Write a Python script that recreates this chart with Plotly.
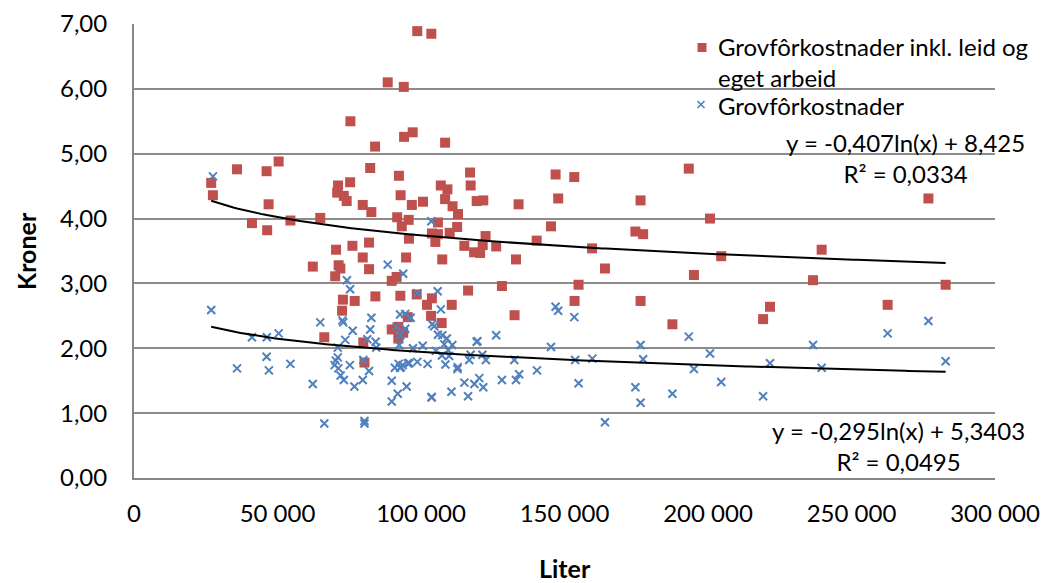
import numpy as np
import plotly.graph_objects as go

# Liter per farm (thousands) and cost per liter (kroner)
inkl_liter_k = [
    98.7, 103.6, 88.4, 94.0, 75.4, 94.1, 97.1, 108.4, 84.0, 50.4,
    35.9, 46.2, 82.3, 92.3, 117.1, 26.9, 27.5, 71.1, 75.3, 70.8,
    73.1, 74.1, 92.9, 106.9, 109.2, 108.4, 117.3, 119.4, 46.9, 79.7,
    82.7, 96.8, 100.7, 111.0, 112.9, 41.1, 46.4, 54.5, 64.9, 91.7,
    95.7, 93.3, 105.9, 103.8, 105.9, 110.0, 112.6, 95.8, 105.0, 115.1,
    70.4, 76.1, 81.9, 79.7, 94.8, 107.4, 118.5, 62.3, 71.3, 71.9,
    81.9, 70.1, 89.8, 91.5, 116.4, 72.8, 76.9, 84.1, 92.8, 98.5,
    103.8, 102.1, 110.7, 72.5, 103.5, 95.4, 107.2, 89.8, 92.1, 93.8,
    92.1, 66.3, 79.9, 80.3, 146.9, 153.4, 121.7, 134.0, 147.8, 176.5,
    122.5, 121.5, 126.2, 145.3, 140.3, 174.7, 177.4, 159.6, 120.6, 133.1,
    164.1, 128.2, 154.9, 153.5, 176.5, 132.6, 187.6, 193.3, 276.8, 200.7,
    239.6, 204.6, 195.1, 236.6, 282.8, 221.6, 219.2, 262.6,
]
inkl_kroner = [
    6.89, 6.85, 6.10, 6.03, 5.50, 5.26, 5.33, 5.17, 5.11, 4.88,
    4.76, 4.73, 4.78, 4.66, 4.71, 4.55, 4.36, 4.51, 4.56, 4.40,
    4.35, 4.27, 4.36, 4.51, 4.45, 4.30, 4.51, 4.27, 4.22, 4.21,
    4.10, 4.21, 4.26, 4.19, 4.07, 3.93, 3.82, 3.97, 4.01, 4.02,
    3.98, 3.88, 3.94, 3.77, 3.76, 3.78, 3.87, 3.69, 3.64, 3.58,
    3.52, 3.58, 3.63, 3.40, 3.40, 3.37, 3.48, 3.26, 3.28, 3.23,
    3.22, 3.11, 3.04, 3.10, 2.89, 2.75, 2.73, 2.80, 2.81, 2.83,
    2.77, 2.67, 2.67, 2.58, 2.50, 2.48, 2.39, 2.29, 2.33, 2.24,
    2.15, 2.17, 2.09, 1.78, 4.68, 4.64, 4.28, 4.22, 4.31, 4.28,
    3.73, 3.59, 3.57, 3.88, 3.66, 3.80, 3.76, 3.54, 3.47, 3.37,
    3.23, 2.96, 2.98, 2.73, 2.73, 2.51, 2.37, 4.77, 4.31, 4.00,
    3.52, 3.42, 3.13, 3.05, 2.98, 2.64, 2.45, 2.67,
]

grov_liter_k = [
    27.5, 103.6, 26.9, 88.4, 93.8, 74.2, 75.3, 98.7, 105.8, 106.9,
    64.9, 72.6, 72.9, 82.7, 76.2, 82.3, 73.6, 81.3, 84.2, 84.4,
    71.0, 92.7, 94.5, 96.4, 91.5, 94.5, 92.8, 92.4, 97.2, 100.6,
    103.9, 104.6, 105.9, 107.4, 109.0, 108.1, 110.9, 105.2, 109.5, 119.4,
    46.3, 41.1, 50.4, 46.2, 35.9, 47.0, 54.5, 70.3, 71.0, 69.9,
    71.2, 72.0, 73.1, 75.2, 79.9, 79.7, 76.8, 81.9, 62.3, 89.8,
    91.9, 89.8, 95.0, 92.2, 93.6, 93.0, 95.9, 98.7, 102.3, 108.5,
    109.8, 112.8, 112.7, 115.1, 116.4, 118.6, 110.6, 103.7, 103.7, 66.3,
    80.3, 80.3, 146.9, 147.8, 153.4, 119.7, 126.2, 107.3, 117.3, 121.4,
    122.6, 116.8, 132.5, 145.3, 153.7, 159.7, 176.5, 177.4, 90.9, 92.7,
    95.4, 140.4, 134.2, 133.1, 128.2, 120.3, 121.7, 154.9, 164.1, 174.7,
    176.5, 187.6, 193.3, 200.7, 195.1, 204.6, 221.6, 219.2, 236.6, 239.6,
    262.6, 276.8, 282.8,
]
grov_kroner = [
    4.65, 3.96, 2.59, 3.29, 3.15, 3.05, 2.91, 2.85, 2.88, 2.60,
    2.40, 2.43, 2.40, 2.47, 2.27, 2.29, 2.13, 2.14, 2.10, 2.01,
    2.01, 2.52, 2.53, 2.47, 2.33, 2.30, 2.20, 2.05, 2.00, 2.04,
    2.37, 2.34, 2.21, 2.20, 2.15, 2.06, 2.05, 1.96, 1.97, 2.10,
    2.17, 2.17, 2.23, 1.87, 1.69, 1.66, 1.76, 1.81, 1.86, 1.74,
    1.69, 1.58, 1.51, 1.74, 1.82, 1.51, 1.41, 1.65, 1.45, 1.50,
    1.30, 1.18, 1.41, 1.76, 1.74, 1.71, 1.77, 1.79, 1.76, 1.75,
    1.88, 1.71, 1.68, 1.47, 1.26, 1.45, 1.33, 1.25, 1.24, 0.84,
    0.88, 0.84, 2.64, 2.58, 2.48, 2.11, 2.20, 1.89, 1.90, 1.90,
    1.82, 1.82, 1.82, 2.02, 1.82, 1.84, 2.05, 1.83, 1.70, 1.70,
    1.77, 1.66, 1.60, 1.51, 1.51, 1.54, 1.40, 1.46, 0.86, 1.40,
    1.16, 1.30, 2.18, 1.92, 1.68, 1.48, 1.77, 1.26, 2.05, 1.70,
    2.23, 2.42, 1.80,
]

# Logarithmic trendlines: y = a*ln(x) + b, with R²
inkl_trend = (-0.407, 8.425, 0.0334)
grov_trend = (-0.295, 5.3403, 0.0495)

x_ticks = [0, 50000, 100000, 150000, 200000, 250000, 300000]

series_names = ["Grovfôrkostnader inkl. leid og<br>eget arbeid", "Grovfôrkostnader"]
x_title = "Liter"
y_title = "Kroner"

RED = "#C0504D"
BLUE = "#4F81BD"
FONT = "Lato, Carlito, Open Sans, sans-serif"

W, H = 1043, 583
M = dict(l=134, r=48, t=24, b=105)
PW = W - M["l"] - M["r"]
PH = H - M["t"] - M["b"]


def px(xp):
    """Pixel column -> paper x."""
    return (xp - M["l"]) / PW


def py(yp):
    """Pixel row -> paper y."""
    return (H - M["b"] - yp) / PH


inkl_x = np.array(inkl_liter_k) * 1000
grov_x = np.array(grov_liter_k) * 1000


def trend_curve(xs, coef):
    a, b, _ = coef
    xx = np.linspace(xs.min(), xs.max(), 200)
    return xx, a * np.log(xx) + b


fig = go.Figure()

fig.add_trace(go.Scatter(
    x=inkl_x, y=inkl_kroner, mode="markers",
    name=series_names[0].replace("<br>", " "), showlegend=False,
    marker=dict(symbol="square", size=10, color=RED, line=dict(width=0)),
))
fig.add_trace(go.Scatter(
    x=grov_x, y=grov_kroner, mode="markers",
    name=series_names[1], showlegend=False,
    marker=dict(symbol="x-thin", size=8, color=BLUE,
                line=dict(width=2, color=BLUE)),
))

for xs, coef in ((inkl_x, inkl_trend), (grov_x, grov_trend)):
    tx, ty = trend_curve(xs, coef)
    fig.add_trace(go.Scatter(
        x=tx, y=ty, mode="lines", showlegend=False, hoverinfo="skip",
        line=dict(color="black", width=2),
    ))


def eq_text(coef, dec_b):
    a, b, r2 = coef
    a_s = f"{a:.3f}".replace(".", ",")
    b_s = f"{b:.{dec_b}f}".replace(".", ",")
    r_s = f"{r2:.4f}".replace(".", ",")
    return f"y = {a_s}ln(x) + {b_s}<br>R² = {r_s}"


eq_font = dict(family=FONT, size=24, color="black")
fig.add_annotation(
    x=px(905), y=py(158), xref="paper", yref="paper",
    xanchor="center", yanchor="middle",
    text=eq_text(inkl_trend, 3), showarrow=False, align="center", font=eq_font,
)
fig.add_annotation(
    x=px(898), y=py(446), xref="paper", yref="paper",
    xanchor="center", yanchor="middle",
    text=eq_text(grov_trend, 4), showarrow=False, align="center", font=eq_font,
)

# Legend: marker keys and labels
leg_font = dict(family=FONT, size=24, color="black")
fig.add_annotation(
    x=px(717), y=py(62), xref="paper", yref="paper",
    xanchor="left", yanchor="middle", text=series_names[0], align="left",
    showarrow=False, font=leg_font, borderpad=0,
)
fig.add_annotation(
    x=px(717), y=py(105), xref="paper", yref="paper",
    xanchor="left", yanchor="middle", text=series_names[1], align="left",
    showarrow=False, font=leg_font, borderpad=0,
)
fig.add_shape(
    type="rect", xref="paper", yref="paper",
    x0=px(697.5), x1=px(706.5), y0=py(52), y1=py(43),
    fillcolor=RED, line=dict(width=0),
)
fig.add_shape(
    type="path", xref="paper", yref="paper",
    path=(f"M {px(697.5)} {py(101)} L {px(704.5)} {py(108)} "
          f"M {px(697.5)} {py(108)} L {px(704.5)} {py(101)}"),
    line=dict(color=BLUE, width=1.6),
)

# Axis titles
title_font = dict(family=FONT, size=25, color="black")
fig.add_annotation(
    x=0.5, y=py(568), xref="paper", yref="paper",
    xanchor="center", yanchor="middle", text=f"<b>{x_title}</b>",
    showarrow=False, font=title_font,
)
fig.add_annotation(
    x=px(26), y=0.5, xref="paper", yref="paper",
    xanchor="center", yanchor="middle", text=f"<b>{y_title}</b>",
    textangle=-90, showarrow=False, font=title_font,
)

fig.update_layout(
    width=W, height=H,
    margin=M,
    paper_bgcolor="white", plot_bgcolor="white",
    separators=", ",
    font=dict(family=FONT, size=24, color="black"),
    showlegend=False,
    xaxis=dict(
        range=[0, 300000], tickvals=x_ticks, tickformat=",d",
        showgrid=False, zeroline=False, automargin=False,
        showline=True, linecolor="#868686", linewidth=2,
        ticks="", tickfont=dict(family=FONT, size=24),
        ticklabelstandoff=13,
    ),
    yaxis=dict(
        range=[0, 7], dtick=1, tickformat=".2f",
        showgrid=True, gridcolor="#8c8c8c", gridwidth=1.5,
        zeroline=False, automargin=False,
        showline=True, linecolor="#868686", linewidth=2,
        ticks="", tickfont=dict(family=FONT, size=24),
        ticklabelstandoff=20,
    ),
)

fig.write_html("out.html")
